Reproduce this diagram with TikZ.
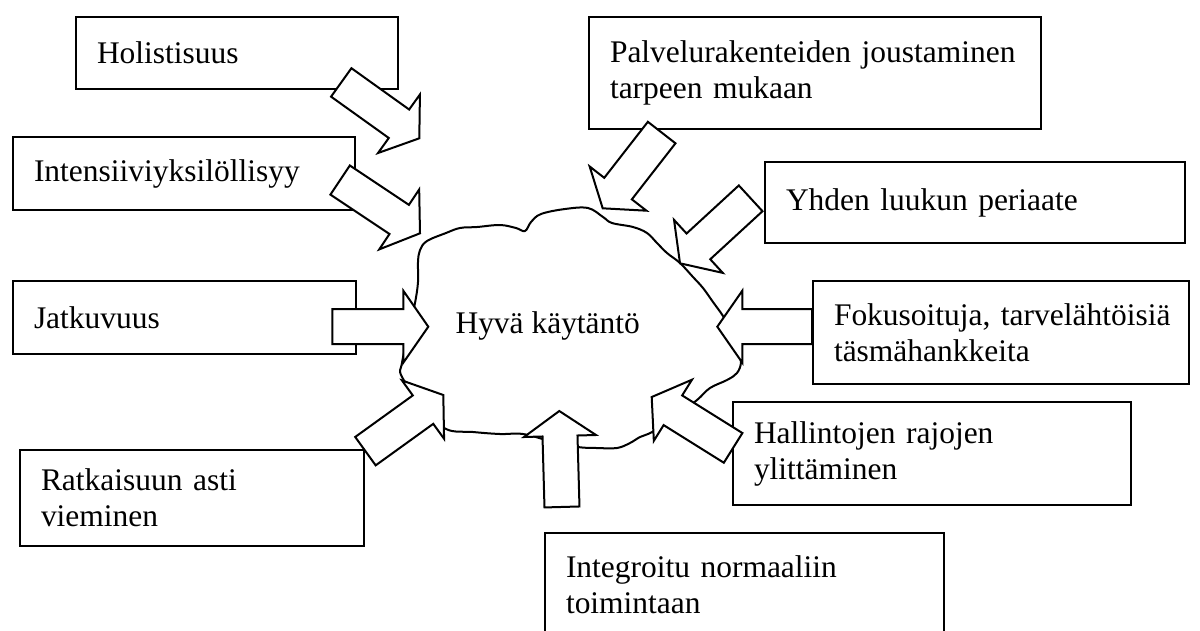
\documentclass[tikz,border=0pt]{standalone}
\usepackage{fontspec}
\setmainfont{Liberation Serif}
\newcommand\myblockarrow[4]{%
  \begin{scope}[shift={(#1,#2)},rotate=#3]
    \filldraw[arr] (0,0) -- (-25,36) -- (-25,17.5) -- (-#4,17.5) -- (-#4,-17.5) -- (-25,-17.5) -- (-25,-36) -- cycle;
  \end{scope}}
\begin{document}
\begin{tikzpicture}[x=0.375pt,y=-0.375pt,
  box/.style={draw, line width=0.75pt, anchor=north west, inner xsep=7.875pt, inner ysep=0pt,
    align=left, font=\fontsize{11.8}{13.5}\selectfont},
  arr/.style={draw, fill=white, line width=0.75pt, line join=miter},
  cloudline/.style={draw, fill=white, line width=0.75pt}]
\clip (0,0) rectangle (1200,630);
\fill[white] (0,0) rectangle (1200,630);

% boxes
\node[box, text width=105pt, minimum height=27pt] (hol) at (75,16) {\mbox{Holistisuus}};
\node[box, text width=112.5pt, minimum height=27.375pt] (int) at (12,136) {\mbox{Intensiiviyksilöllisyy}};
\node[box, text width=112.875pt, minimum height=27.375pt] (jat) at (12,280) {\mbox{Jatkuvuus}};
\node[box, text width=113.25pt, minimum height=36pt] (rat) at (19,449) {\mbox{Ratkaisuun asti}\\\mbox{vieminen}};
\node[box, text width=153.75pt, minimum height=42pt] (pal) at (588,16) {\mbox{Palvelurakenteiden joustaminen}\\\mbox{tarpeen mukaan}};
\node[box, text width=141.75pt, minimum height=30.375pt] (yhd) at (764,161) {\mbox{Yhden luukun periaate}};
\node[box, text width=125.25pt, minimum height=38.625pt] (fok) at (812,280) {\mbox{Fokusoituja, tarvelähtöisiä}\\\mbox{täsmähankkeita}};
\node[box, text width=133.5pt, minimum height=38.625pt] (hal) at (732,401) {\mbox{Hallintojen rajojen}\\\mbox{ylittäminen}};
\node[box, text width=133.875pt, minimum height=38.625pt] (ing) at (544,532) {\mbox{Integroitu normaaliin}\\\mbox{toimintaan}};

% cloud
\path[cloudline] plot[smooth cycle, tension=0.6] coordinates {
 (418,262) (420,250) (427,241) (446,233) (460,228) (477,227) (500,225) (516,228) (525,231)
 (531,222) (541,214) (565,209) (588,208) (603,217) (612,223) (633,227) (647,233) (657,243)
 (667,253) (680,263) (693,277) (703,288) (713,302) (723,316) (732,332) (738,348) (741,362)
 (737,373) (727,380) (710,388) (697,400) (675,417) (652,432) (640,437) (630,443) (617,448)
 (597,448) (578,447) (550,441) (523,434) (500,434) (473,432) (446,429) (425,408) (402,377)
 (402,363) (408,335) (415,303) (418,282)};

% block arrows
\myblockarrow{419.3}{138.3}{-35.6}{96}
\myblockarrow{420}{233.3}{-33.7}{96}
\myblockarrow{428.3}{326.7}{0}{96}
\myblockarrow{443.3}{395}{35.8}{96}
\myblockarrow{559.3}{411}{91.6}{96}
\myblockarrow{651.7}{397}{148}{96}
\myblockarrow{717.3}{326.7}{180}{94.7}
\myblockarrow{680}{263.3}{222.6}{96}
\myblockarrow{602.7}{208.3}{232.1}{96}

\node[anchor=base west, inner sep=0pt, font=\fontsize{11.8}{13.5}\selectfont] (hyva) at (455,333) {Hyvä käytäntö};
\end{tikzpicture}
\end{document}
